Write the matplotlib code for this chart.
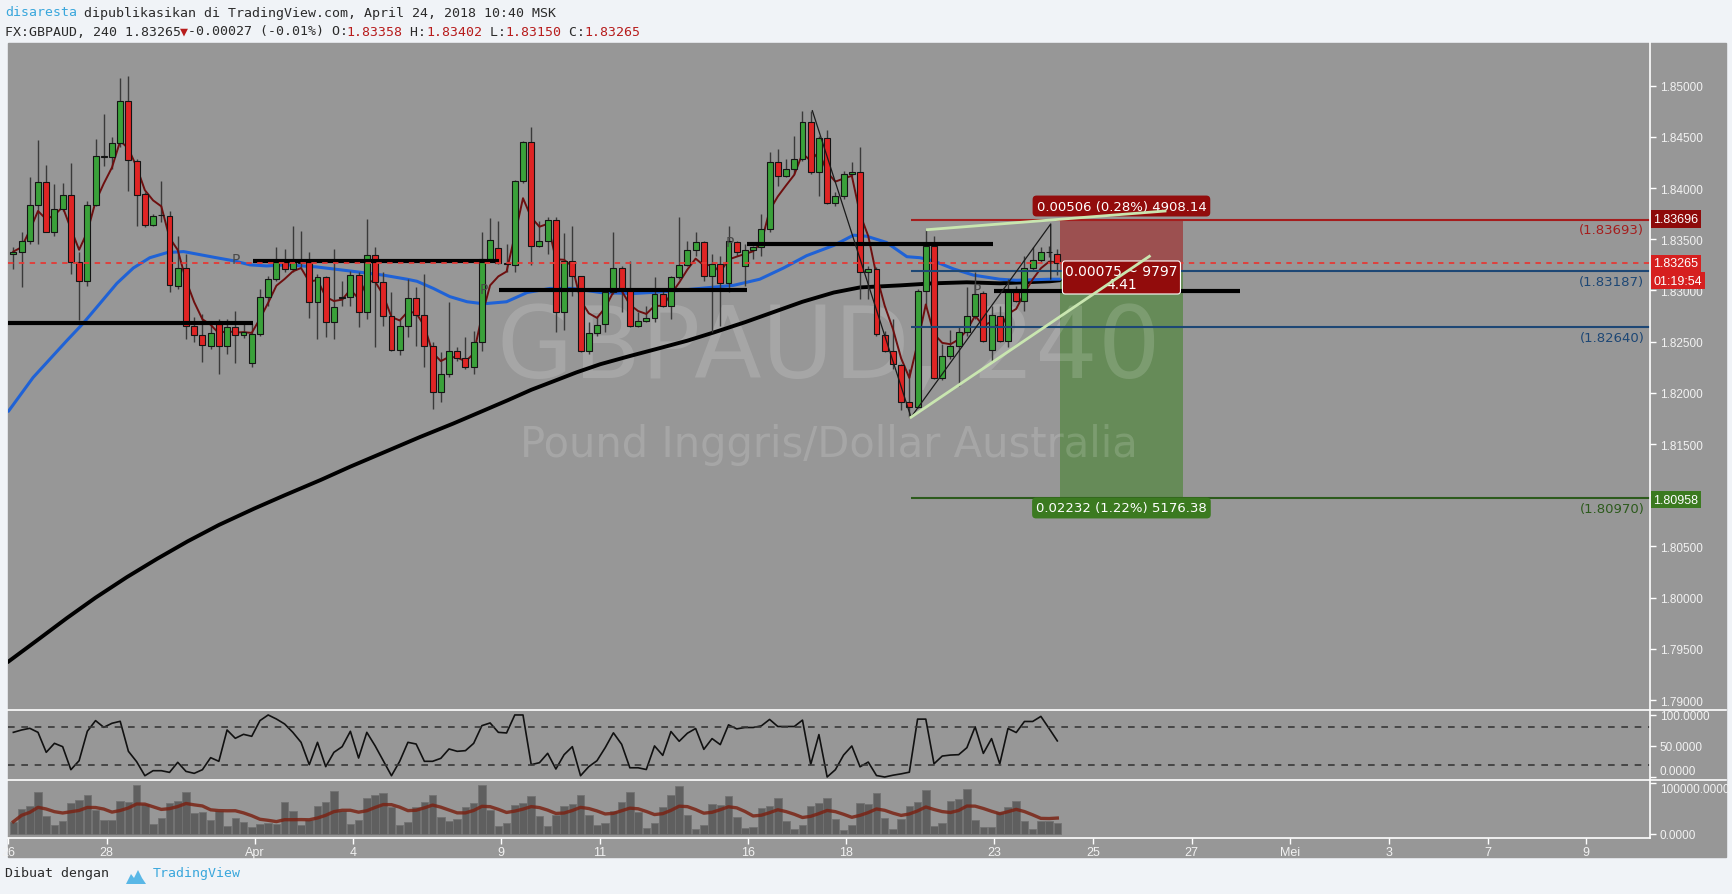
import numpy as np
import pandas as pd
import matplotlib
matplotlib.use('Agg')
import matplotlib.pyplot as plt
from matplotlib.patches import Rectangle, Polygon
from matplotlib.lines import Line2D

# ── DATA ──────────────────────────────────────────────────────
opens = [1.83357, 1.83373, 1.83487, 1.83838, 1.84057, 1.83575, 1.83796, 1.83936, 1.83282, 1.83090,
         1.83835, 1.84300, 1.84303, 1.84437, 1.84848, 1.84269, 1.83943, 1.83640, 1.83741, 1.83731,
         1.83047, 1.83217, 1.82650, 1.82566, 1.82461, 1.82673, 1.82455, 1.82641, 1.82566, 1.82293,
         1.82575, 1.82934, 1.83112, 1.83298, 1.83210, 1.83282, 1.83292, 1.82885, 1.83129, 1.82690,
         1.82937, 1.82934, 1.83155, 1.82787, 1.83347, 1.83080, 1.82755, 1.82419, 1.82657, 1.82924,
         1.82761, 1.82461, 1.82006, 1.82185, 1.82412, 1.82338, 1.82250, 1.82494, 1.83308, 1.83412,
         1.83269, 1.83250, 1.84066, 1.84447, 1.83432, 1.83487, 1.83692, 1.82787, 1.83292, 1.83138,
         1.82412, 1.82585, 1.82673, 1.82983, 1.83217, 1.83015, 1.82657, 1.82706, 1.82729, 1.82967,
         1.82853, 1.83129, 1.83250, 1.83396, 1.83471, 1.83145, 1.83259, 1.83073, 1.83471, 1.83243,
         1.83399, 1.83422, 1.83601, 1.84252, 1.84122, 1.84187, 1.84285, 1.84649, 1.84161, 1.84486,
         1.83855, 1.83926, 1.84138, 1.84161, 1.83184, 1.83210, 1.82566, 1.82406, 1.82277, 1.81908,
         1.81859, 1.82993, 1.83432, 1.82143, 1.82358, 1.82455, 1.82592, 1.82748, 1.82976, 1.82422,
         1.82755, 1.82511, 1.82990, 1.82895, 1.83217, 1.83302, 1.83373, 1.83358]
highs = [1.83422, 1.83569, 1.84106, 1.84470, 1.84226, 1.84040, 1.84047, 1.84243, 1.83380, 1.83877,
         1.84480, 1.84724, 1.84496, 1.85075, 1.85098, 1.84285, 1.83959, 1.83747, 1.84066, 1.83780,
         1.83536, 1.83357, 1.82738, 1.82771, 1.82690, 1.82722, 1.82722, 1.82804, 1.82690, 1.82673,
         1.83015, 1.83145, 1.83422, 1.83406, 1.83634, 1.83585, 1.83380, 1.83161, 1.83145, 1.83406,
         1.83096, 1.83194, 1.83178, 1.83698, 1.83422, 1.83178, 1.82983, 1.82722, 1.83112, 1.83031,
         1.83161, 1.82494, 1.82396, 1.82885, 1.82445, 1.82543, 1.82608, 1.83575, 1.83705, 1.83675,
         1.83455, 1.84082, 1.84463, 1.84594, 1.83682, 1.83715, 1.83715, 1.83562, 1.83627, 1.83145,
         1.82690, 1.82755, 1.83015, 1.83569, 1.83243, 1.83292, 1.82787, 1.82853, 1.83129, 1.82999,
         1.83145, 1.83715, 1.83487, 1.83569, 1.83487, 1.83357, 1.83341, 1.83634, 1.83487, 1.83455,
         1.83438, 1.83747, 1.84349, 1.84382, 1.84285, 1.84512, 1.84757, 1.84757, 1.84512, 1.84571,
         1.83959, 1.84171, 1.84252, 1.84398, 1.83243, 1.83226, 1.82608, 1.82722, 1.82283, 1.82234,
         1.83015, 1.83595, 1.83536, 1.82478, 1.82618, 1.82641, 1.83031, 1.83178, 1.82999, 1.82853,
         1.82853, 1.83112, 1.83047, 1.83341, 1.83422, 1.83422, 1.83430, 1.83402]
lows = [1.83210, 1.83031, 1.83455, 1.83455, 1.83569, 1.83536, 1.83780, 1.83161, 1.82716, 1.83047,
        1.83829, 1.84220, 1.84187, 1.84398, 1.83975, 1.83634, 1.83618, 1.83634, 1.83666, 1.82983,
        1.83015, 1.82527, 1.82494, 1.82306, 1.82429, 1.82185, 1.82380, 1.82293, 1.82533, 1.82250,
        1.82559, 1.82853, 1.83096, 1.83178, 1.83178, 1.83226, 1.82729, 1.82527, 1.82543, 1.82527,
        1.82853, 1.82846, 1.82641, 1.82722, 1.82445, 1.82657, 1.82412, 1.82370, 1.82543, 1.82461,
        1.82250, 1.81843, 1.81908, 1.82153, 1.82316, 1.82234, 1.82185, 1.82412, 1.83292, 1.83259,
        1.83178, 1.83184, 1.84050, 1.83250, 1.83422, 1.83357, 1.82592, 1.82618, 1.82950, 1.82402,
        1.82380, 1.82559, 1.82592, 1.82967, 1.82787, 1.82641, 1.82641, 1.82690, 1.82690, 1.82836,
        1.82722, 1.83112, 1.83243, 1.83341, 1.83096, 1.82592, 1.82657, 1.82983, 1.83341, 1.83047,
        1.83308, 1.83341, 1.83569, 1.84024, 1.84106, 1.84138, 1.84269, 1.84138, 1.83926, 1.83845,
        1.83829, 1.83894, 1.84122, 1.82918, 1.82918, 1.82559, 1.82396, 1.82234, 1.81836, 1.81761,
        1.81850, 1.82853, 1.82136, 1.82130, 1.82332, 1.82071, 1.82559, 1.82722, 1.82494, 1.82306,
        1.82494, 1.82445, 1.82885, 1.82804, 1.83194, 1.83276, 1.83330, 1.83150]
closes = [1.83380, 1.83487, 1.83838, 1.84057, 1.83575, 1.83796, 1.83936, 1.83282, 1.83090, 1.83835,
          1.84310, 1.84310, 1.84437, 1.84848, 1.84275, 1.83936, 1.83640, 1.83731, 1.83734, 1.83054,
          1.83217, 1.82657, 1.82566, 1.82468, 1.82585, 1.82455, 1.82641, 1.82566, 1.82598, 1.82575,
          1.82934, 1.83112, 1.83298, 1.83210, 1.83298, 1.83269, 1.82885, 1.83129, 1.82690, 1.82836,
          1.82931, 1.83155, 1.82787, 1.83347, 1.83086, 1.82755, 1.82419, 1.82657, 1.82924, 1.82761,
          1.82461, 1.82006, 1.82185, 1.82412, 1.82338, 1.82250, 1.82494, 1.83308, 1.83497, 1.83269,
          1.83256, 1.84066, 1.84447, 1.83432, 1.83487, 1.83692, 1.82787, 1.83292, 1.83138, 1.82412,
          1.82585, 1.82664, 1.82983, 1.83217, 1.83015, 1.82657, 1.82706, 1.82729, 1.82967, 1.82853,
          1.83129, 1.83250, 1.83396, 1.83471, 1.83145, 1.83259, 1.83073, 1.83487, 1.83373, 1.83396,
          1.83422, 1.83601, 1.84252, 1.84122, 1.84187, 1.84285, 1.84649, 1.84161, 1.84486, 1.83855,
          1.83926, 1.84138, 1.84161, 1.83184, 1.83210, 1.82575, 1.82406, 1.82283, 1.81908, 1.81859,
          1.82993, 1.83432, 1.82143, 1.82358, 1.82455, 1.82592, 1.82748, 1.82967, 1.82504, 1.82761,
          1.82511, 1.82993, 1.82895, 1.83217, 1.83302, 1.83380, 1.83380, 1.83265]

# stochastic oscillator (lower pane 1)
stoch = [72.0, 75.8, 78.5, 72.0, 39.8, 54.3, 48.9, 11.8, 26.3, 73.7,
         90.9, 80.1, 86.6, 89.8, 41.4, 24.7, 2.1, 10.2, 10.2, 7.5,
         23.7, 9.1, 5.9, 11.8, 31.2, 25.3, 75.8, 62.4, 68.8, 65.6,
         90.9, 100.0, 93.5, 85.5, 72.0, 55.9, 19.9, 55.9, 16.7, 39.8,
         48.9, 73.7, 30.6, 72.0, 50.5, 26.3, 2.1, 25.3, 55.9, 53.2,
         25.3, 25.3, 30.1, 45.2, 41.4, 42.5, 54.3, 82.8, 87.1, 72.0,
         71.0, 100.0, 100.0, 19.9, 23.1, 38.2, 12.9, 36.0, 48.9, 2.1,
         16.7, 26.3, 47.3, 71.2, 52.7, 14.9, 14.9, 12.1, 50.1, 34.9,
         73.3, 57.6, 70.6, 78.2, 44.6, 61.9, 52.2, 84.1, 77.6, 79.8,
         79.8, 82.5, 92.8, 81.4, 81.4, 81.4, 91.7, 20.3, 68.4, 0.1,
         11.8, 35.4, 50.0, 16.5, 24.1, 2.4, 0.0, 2.9, 5.1, 7.8,
         93.3, 93.3, 21.3, 33.8, 35.4, 36.0, 47.3, 80.9, 38.1, 61.9,
         21.3, 78.2, 71.7, 89.5, 89.5, 97.7, 78.2, 58.2]

# volume (lower pane 2)
volume = [24100, 49000, 54200, 81700, 35900, 17600, 25500, 60800, 66600, 77100,
          47700, 27400, 27400, 64700, 62100, 96000, 58100, 19600, 30700, 60800,
          64700, 81700, 40500, 42500, 28100, 44400, 16300, 31400, 22900, 14400,
          19600, 21600, 19600, 62100, 44400, 18300, 28100, 54200, 62100, 84300,
          45700, 19600, 28100, 69900, 75800, 79700, 52300, 18300, 22900, 52300,
          62100, 77100, 32700, 25500, 29400, 52300, 60800, 96000, 46400, 15000,
          21600, 56800, 60800, 73800, 34600, 16300, 37200, 54200, 58800, 77200,
          36400, 18100, 20600, 45600, 62700, 82300, 43100, 11400, 22500, 52900,
          75900, 94300, 37800, 10700, 18600, 58800, 57400, 73800, 33800, 12700,
          14700, 51000, 55500, 70000, 25900, 10700, 16700, 54900, 60800, 70000,
          29800, 8800, 16700, 60800, 59400, 80600, 31100, 10700, 29800, 55500,
          62700, 86400, 16100, 22500, 64000, 68000, 88400, 27800, 14100, 14100,
          42300, 52100, 64000, 24700, 10700, 25900, 24700, 22500]

# blue and black moving averages, read at sample bars
blue_bar = [-0.6, 2.4, 6.5, 8.5, 10.5, 12.6, 14.6, 16.6, 18.7, 20.7, 22.7, 24.7, 26.8, 28.8,
            30.8, 33.3, 36.9, 41, 45, 47.9, 49.1, 51.1, 53.1, 55.2, 57.2, 60, 62.5, 65.3,
            68.1, 71.4, 75.4, 79.5, 83.5, 87.6, 90.8, 93.7, 96.5, 99.8, 102.2, 103.8, 106.2,
            108.7, 110.3, 111.9, 114.4, 116.8, 120, 122, 126.1, 127.3]
blue_val = [1.8182, 1.8215, 1.8251, 1.8268, 1.8287, 1.8307, 1.8322, 1.8332, 1.8337, 1.8338,
            1.8335, 1.8332, 1.8329, 1.8325, 1.8324, 1.8325, 1.8323, 1.8319, 1.8315, 1.8311,
            1.8309, 1.8302, 1.8294, 1.8289, 1.8287, 1.8289, 1.8298, 1.8302, 1.8302, 1.8298,
            1.8297, 1.8299, 1.8302, 1.8305, 1.8311, 1.8322, 1.8334, 1.8344, 1.8354, 1.8353,
            1.8347, 1.8333, 1.8332, 1.8329, 1.8321, 1.8315, 1.8311, 1.8310, 1.8311, 1.8311]
black_bar = [-0.7, 3.0, 6.5, 10.0, 13.8, 17.5, 21.2, 25.0, 29.3, 33.0, 37.4, 41.0, 45.4,
             49.5, 53.5, 57.0, 60.2, 63.0, 65.6, 68.5, 71.4, 75.0, 78.3, 82.0, 85.2, 89.0,
             92.5, 96.0, 99.8, 103, 107.9, 111.9, 116, 120, 126.1, 127.3]
black_val = [1.7937, 1.7959, 1.7980, 1.8000, 1.8020, 1.8038, 1.8055, 1.8071, 1.8087, 1.8100,
             1.8115, 1.8128, 1.8143, 1.8157, 1.8170, 1.8182, 1.8193, 1.8203, 1.8211, 1.8220,
             1.8228, 1.8236, 1.8243, 1.8251, 1.8259, 1.8269, 1.8279, 1.8289, 1.8298, 1.8303,
             1.8305, 1.8307, 1.8308, 1.8307, 1.8309, 1.8310]

# hand-drawn support / resistance lines: level, from bar, to bar
sr_level = [1.82683, 1.83292, 1.83009, 1.83454, 1.82999]
sr_from = [-0.65, 29.2, 59.1, 89.2, 119.3]
sr_to = [29.1, 59.1, 89.3, 119.2, 149.2]

# position tool
STOP, ENTRY, TARGET = 1.83696, 1.83190, 1.80958
TOOL_FROM, TOOL_TO = 127.3, 142.3
LAST = 1.83265

level_val = [1.83693, 1.83187, 1.82640, 1.80970]
level_txt = ['(1.83693)', '(1.83187)', '(1.82640)', '(1.80970)']
level_col = ['#a51d1d', '#1d4775', '#1d4775', '#2c5a1c']
LEVEL_FROM = 109.2

pivot_bar = [27.1, 57.2, 87.2, 117.2]
pivot_val = [1.83308, 1.83015, 1.83471, 1.83015]

date_bar = [-0.65, 11.35, 29.35, 41.35, 59.35, 71.35, 89.35, 101.35, 119.35, 131.35,
            143.35, 155.35, 167.35, 179.35, 191.35]
date_lbl = ['26', '28', 'Apr', '4', '9', '11', '16', '18', '23', '25', '27', 'Mei', '3', '7', '9']

price_ticks = np.arange(1.79, 1.8501, 0.005)

# ── FIGURE LAYOUT ─────────────────────────────────────────────
plt.rcParams['font.family'] = ['Liberation Sans', 'DejaVu Sans']
W, H = 1733, 895
fig = plt.figure(figsize=(W / 100, H / 100), dpi=100, facecolor='#f0f3f7')

def fx(px):
    return px / W

def fy(py):
    return 1 - py / H

GRAY = '#979797'
fig.patches.append(Rectangle((fx(8), fy(858)), fx(1718), (858 - 44) / H,
                             transform=fig.transFigure, color=GRAY, zorder=-5))

ax = fig.add_axes([fx(8), fy(711), fx(1642), 667 / H])
ax_osc = fig.add_axes([fx(8), fy(781), fx(1642), 70 / H], sharex=ax)
ax_vol = fig.add_axes([fx(8), fy(839), fx(1642), 58 / H], sharex=ax)

for a in (ax, ax_osc, ax_vol):
    a.set_facecolor('none')
    for s in a.spines.values():
        s.set_visible(False)
    a.yaxis.tick_right()
    a.tick_params(axis='y', length=4, width=1, color='white', labelcolor='#f2f2f2',
                  labelsize=8.5, pad=3)
    a.tick_params(axis='x', bottom=False, labelbottom=False)

idx = np.arange(len(closes))
o = np.array(opens)
c = np.array(closes)
hi = np.array(highs)
lo = np.array(lows)
up = c >= o

# ── PRICE PANE ────────────────────────────────────────────────
# watermark sits above the position zones but below the candles
ax.text(0.5, 0.54, 'GBPAUD, 240', transform=ax.transAxes, ha='center', va='center',
        fontsize=71, color='white', alpha=0.15, family='DejaVu Sans', zorder=1.5)
ax.text(0.5, 0.399, 'Pound Inggris/Dollar Australia', transform=ax.transAxes,
        ha='center', va='center', fontsize=30, color='white', alpha=0.15,
        family='DejaVu Sans', zorder=1.5)

# position tool zones
ax.add_patch(Rectangle((TOOL_FROM, ENTRY), TOOL_TO - TOOL_FROM, STOP - ENTRY,
                       fc='#9c5050', ec='none', zorder=1))
ax.add_patch(Rectangle((TOOL_FROM, TARGET), TOOL_TO - TOOL_FROM, ENTRY - TARGET,
                       fc='#668b58', ec='none', zorder=1))

# moving averages
ax.plot(black_bar, black_val, color='black', lw=2.8, zorder=2, solid_capstyle='round')
ax.plot(blue_bar, blue_val, color='#1f62d6', lw=2.2, zorder=2, solid_capstyle='round')
ema_fast = pd.Series(closes).ewm(span=4, adjust=False).mean()
ax.plot(idx, ema_fast, color='#6e0f0f', lw=1.4, zorder=3.5)

# candles
ax.vlines(idx, lo, hi, color='#3a3a3a', lw=1, zorder=3)
ax.bar(idx[up], (c - o)[up], bottom=o[up], width=0.72, color='#3aa13a',
       edgecolor='#141414', lw=0.8, zorder=4)
ax.bar(idx[~up], (o - c)[~up], bottom=c[~up], width=0.72, color='#e02424',
       edgecolor='#141414', lw=0.8, zorder=4)

# support / resistance drawings
ax.hlines(sr_level, sr_from, sr_to, color='black', lw=3, zorder=5)

# current price line
ax.axhline(LAST, color='#e53935', lw=1.3, ls=(0, (3, 3)), zorder=5)

# levels from the position tool
ax.hlines(level_val, LEVEL_FROM, 199.1, colors=level_col, lw=1.5, zorder=5)
for v, t, col in zip(level_val, level_txt, level_col):
    ax.annotate(t, xy=(0.9965, v), xycoords=('axes fraction', 'data'), xytext=(0, -7),
                textcoords='offset points', ha='right', va='center', fontsize=9.5,
                color=col, family='DejaVu Sans', zorder=6)

# wedge drawings
ax.plot([97.2, 109.2], [1.84756, 1.81762], color='#1a1a1a', lw=0.9, zorder=5)
ax.plot([109.2, 126.2, 126.2], [1.81762, 1.83650, 1.83112], color='#1a1a1a', lw=0.9, zorder=5)
ax.plot([111.2, 140.1], [1.83594, 1.83776], color='#c9e6b0', lw=2, zorder=7)
ax.plot([109.2, 138.2], [1.81762, 1.83334], color='#c9e6b0', lw=2, zorder=7)

for b, v in zip(pivot_bar, pivot_val):
    ax.text(b, v, 'P', ha='center', va='center', fontsize=10, color='#4a4a4a',
            family='DejaVu Sans', zorder=5)

# position tool labels
mid = (TOOL_FROM + TOOL_TO) / 2
ax.text(mid, 1.83825, '0.00506 (0.28%) 4908.14', ha='center', va='center', fontsize=9.5,
        color='white', family='DejaVu Sans', zorder=6,
        bbox=dict(boxstyle='round,pad=0.3,rounding_size=0.3', fc='#920c0c', ec='none'))
ax.text(mid, 1.83127, '0.00075 ~ 9797\n4.41', ha='center', va='center', fontsize=10,
        color='white', family='DejaVu Sans', linespacing=0.95, zorder=6,
        bbox=dict(boxstyle='round,pad=0.2,rounding_size=0.2', fc='#920c0c', ec='white', lw=0.8))
ax.text(mid, 1.80876, '0.02232 (1.22%) 5176.38', ha='center', va='center', fontsize=9.5,
        color='white', family='DejaVu Sans', zorder=6,
        bbox=dict(boxstyle='round,pad=0.3,rounding_size=0.3', fc='#3b7a20', ec='none'))

ax.set_xlim(-0.65, 199.1)
ax.set_ylim(1.78903, 1.85417)
ax.set_yticks(price_ticks)
# the 1.81000 label sits under the green target tag on the original
ax.set_yticklabels(['' if abs(t - 1.81) < 1e-6 else f'{t:.5f}' for t in price_ticks])


def axis_tag(y, text, fc, dy=0):
    ax.annotate(text, xy=(1, y), xycoords=('axes fraction', 'data'), xytext=(2.5, dy),
                textcoords='offset points', ha='left', va='center', fontsize=9,
                color='white', annotation_clip=False, zorder=10,
                bbox=dict(boxstyle='square,pad=0.22', fc=fc, ec='none'))


axis_tag(STOP, '1.83696', '#8e0a0a')
axis_tag(LAST, '1.83265', '#d61f1f')
axis_tag(LAST, '01:19:54', '#d61f1f', dy=-12.5)
axis_tag(TARGET, '1.80958', '#3b7a20')

# ── STOCHASTIC PANE ───────────────────────────────────────────
ax_osc.plot(idx, stoch, color='#111111', lw=1.2)
ax_osc.axhline(80, color='#383838', lw=1.2, ls=(0, (4, 4)))
ax_osc.axhline(20, color='#383838', lw=1.2, ls=(0, (4, 4)))
ax_osc.set_ylim(-4.8, 108)
ax_osc.set_yticks([0, 50, 100])
ax_osc.set_yticklabels(['0.0000', '50.0000', '100.0000'])
# keep the bottom label clear of the volume pane's top label
ax_osc.get_yticklabels()[0].set_va('bottom')

# ── VOLUME PANE ───────────────────────────────────────────────
ax_vol.bar(idx, volume, width=0.92, color='#5f5f5f', edgecolor='#727272', lw=0.6)
vol_ma = pd.Series(volume).rolling(9, min_periods=1).mean()
ax_vol.plot(idx, vol_ma, color='#7a2415', lw=2.4, alpha=0.85)
ax_vol.set_ylim(-7840, 105840)
ax_vol.set_yticks([0, 100000])
ax_vol.set_yticklabels(['0.0000', '100000.0000'])
ax_vol.get_yticklabels()[1].set_va('top')
ax_vol.set_xticks(date_bar)
ax_vol.set_xticklabels(date_lbl)
ax_vol.tick_params(axis='x', bottom=True, labelbottom=True, length=4, width=1,
                   color='white', labelcolor='#f2f2f2', labelsize=9, pad=2)

# pane separators
for x0, x1, y0, y1 in [(8, 1726, 711, 711), (8, 1726, 781, 781), (8, 1650, 839, 839),
                       (1650, 1650, 44, 839)]:
    fig.add_artist(Line2D([fx(x0), fx(x1)], [fy(y0), fy(y1)], color='white', lw=1.2,
                          transform=fig.transFigure, zorder=20))

# ── HEADER / FOOTER ───────────────────────────────────────────
mono = 'DejaVu Sans Mono'
FS = 9.5
cw = 0.602 * FS * 100 / 72


def htext(col, py, s, color):
    fig.text(fx(5 + col * cw), fy(py), s, family=mono, fontsize=FS, color=color,
             ha='left', va='center')


DARK = '#2b2b2b'
RED = '#b71c1c'
htext(0, 13, 'disaresta', '#3aa7dc')
htext(10, 13, 'dipublikasikan di TradingView.com, April 24, 2018 10:40 MSK', DARK)
htext(0, 32, 'FX:GBPAUD, 240 1.83265', DARK)
htext(22, 32, '\u25bc', RED)
htext(23, 32, '-0.00027 (-0.01%) O:', DARK)
htext(43, 32, '1.83358', RED)
htext(50, 32, ' H:', DARK)
htext(53, 32, '1.83402', RED)
htext(60, 32, ' L:', DARK)
htext(63, 32, '1.83150', RED)
htext(70, 32, ' C:', DARK)
htext(73, 32, '1.83265', RED)

htext(0, 874, 'Dibuat dengan', DARK)
logo = [(126, 885), (131, 875), (134, 879), (138, 871), (142, 879), (146, 885)]
fig.patches.append(Polygon([(fx(px), fy(py)) for px, py in logo], closed=True,
                           transform=fig.transFigure, fc='#59b7e6', ec='none'))
fig.text(fx(153), fy(874), 'TradingView', family=mono, fontsize=FS, color='#3aa7dc',
         ha='left', va='center')

plt.savefig('out.png', dpi=100, facecolor=fig.get_facecolor())
